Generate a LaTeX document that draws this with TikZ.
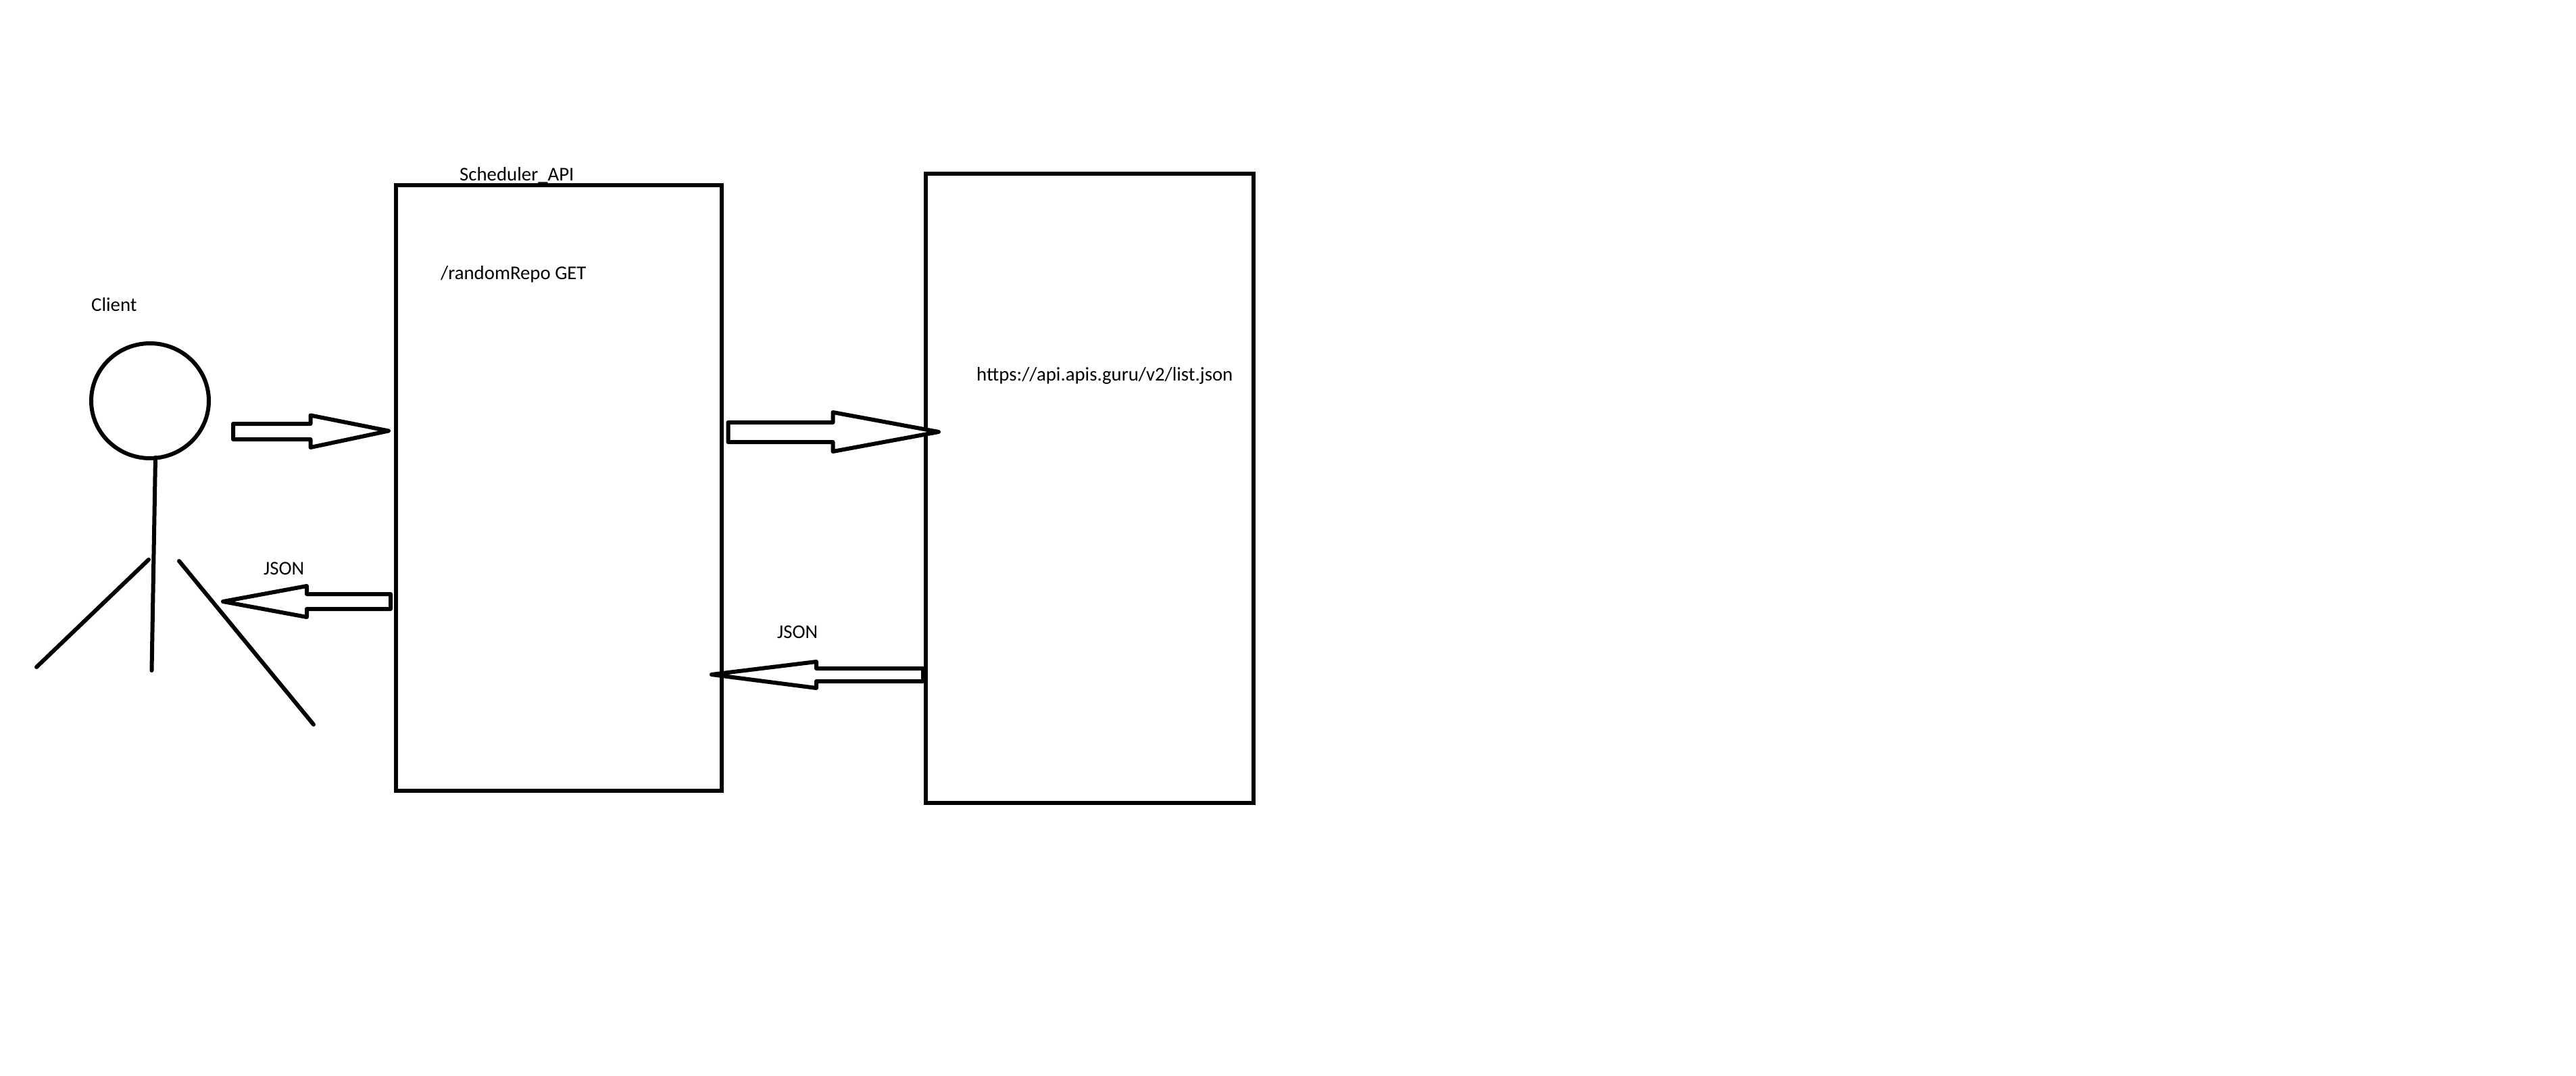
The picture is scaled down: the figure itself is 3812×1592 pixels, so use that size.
\documentclass[tikz,border=0pt]{standalone}
\usepackage{fontspec}
\usetikzlibrary{shapes.geometric}
\setmainfont{Carlito}
\begin{document}
\begin{tikzpicture}[x=1pt,y=-1pt,
  ink/.style={draw=black,line width=6pt},
  blockarrow/.style={ink,fill=white,line join=round},
  limb/.style={ink,line cap=round},
  boxnode/.style={ink,rectangle,inner sep=0pt,outer sep=0pt,anchor=north west},
  label/.style={inner sep=0pt,anchor=base west,font=\fontsize{28.8}{36}\selectfont,text=black}]
\useasboundingbox[fill=white] (0,0) rectangle (3812,1592);
% boxes
\node[boxnode,minimum width=482pt,minimum height=896pt] (api) at (586,274) {};
\node[boxnode,minimum width=485pt,minimum height=931pt] (guru) at (1370,257) {};
% stick figure
\node[ink,ellipse,inner sep=0pt,outer sep=0pt,minimum width=174pt,minimum height=170pt] (head) at (222,593) {};
\coordinate (neck) at (230,677);
\coordinate (foot) at (224.5,992);
\coordinate (lhip) at (220,828);
\coordinate (lfoot) at (54,987);
\coordinate (rhip) at (265,830);
\coordinate (rfoot) at (464,1072);
\draw[limb] (neck) -- (foot);
\draw[limb] (lhip) -- (lfoot);
\draw[limb] (rhip) -- (rfoot);
% block arrows
\draw[blockarrow] (345,627) -- (459.5,627) -- (459.5,614.5) -- (575,637.5) -- (459.5,662) -- (459.5,650) -- (345,650) -- cycle;
\draw[blockarrow] (578,879) -- (454,879) -- (454,867) -- (330,890) -- (454,913) -- (454,901) -- (578,901) -- cycle;
\draw[blockarrow] (1077.5,625) -- (1232.5,625) -- (1232.5,610) -- (1389,639) -- (1232.5,668) -- (1232.5,654) -- (1077.5,654) -- cycle;
\draw[blockarrow] (1366,989) -- (1208,989) -- (1208,979) -- (1053,998) -- (1208,1018) -- (1208,1008) -- (1366,1008) -- cycle;
% labels
\node[label] (tclient) at (135,460) {Client};
\node[label] (tsched) at (680,267) {Scheduler\_API};
\node[label] (trepo) at (652,413) {/randomRepo GET};
\node[label] (tjson1) at (390,850) {JSON};
\node[label] (tjson2) at (1150,944) {JSON};
\node[label] (turl) at (1445,563) {https://api.apis.guru/v2/list.json};
\end{tikzpicture}
\end{document}
